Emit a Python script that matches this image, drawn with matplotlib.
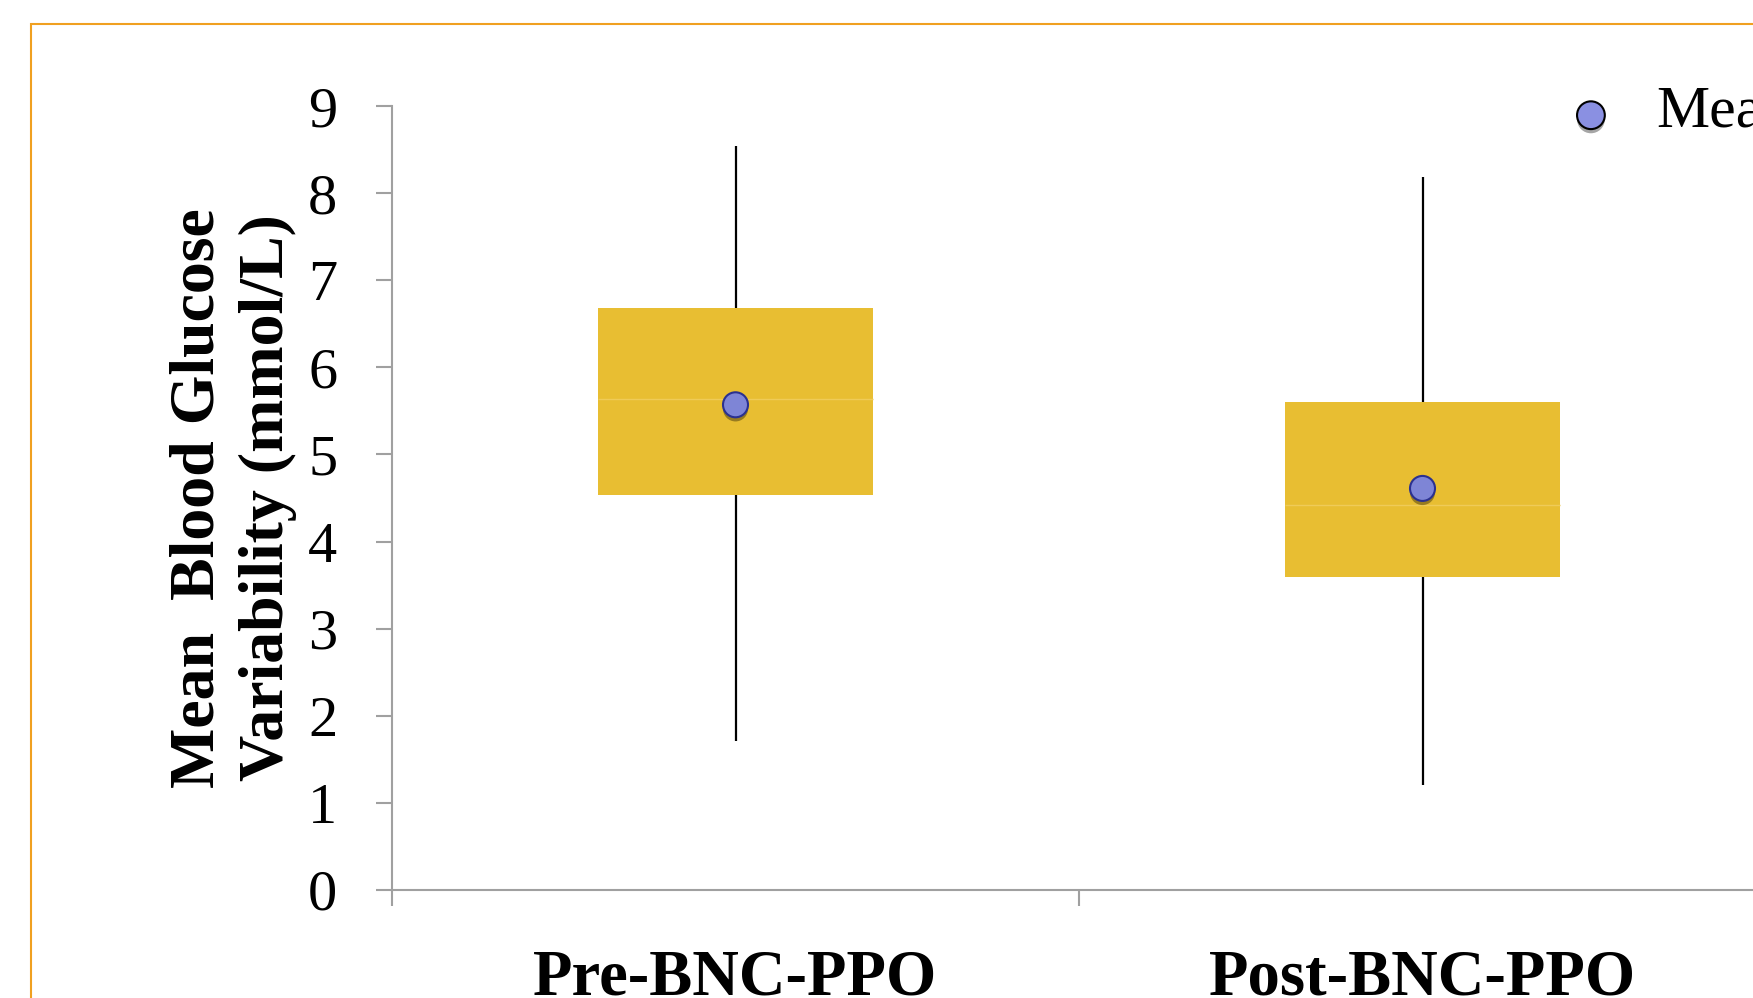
import matplotlib
matplotlib.use("Agg")
import matplotlib.pyplot as plt
import matplotlib.patheffects as pe
from matplotlib.patches import Rectangle
from matplotlib.lines import Line2D

# data (mmol/L)
groups = ["Pre-BNC-PPO", "Post-BNC-PPO"]
whisker_low = [1.71, 1.21]
q1 = [4.53, 3.59]
median = [5.64, 4.42]
q3 = [6.68, 5.60]
whisker_high = [8.54, 8.18]
means = [5.57, 4.61]
yticks = [0, 1, 2, 3, 4, 5, 6, 7, 8, 9]

plt.rcParams['font.family'] = ['Liberation Serif', 'DejaVu Serif']

fig = plt.figure(figsize=(17.53, 9.98), dpi=100)
ax = fig.add_axes([392/1753, 108/998, 1374/1753, 784/998])

x = list(range(len(groups)))

# whiskers
ax.vlines(x, whisker_low, q1, color="black", lw=1.6, zorder=2)
ax.vlines(x, q3, whisker_high, color="black", lw=1.6, zorder=2)

# boxes
heights = [b - a for a, b in zip(q1, q3)]
ax.bar(x, heights, bottom=q1, width=0.4, color="#E8BE32", zorder=3)
ax.hlines(median, [i - 0.2 for i in x], [i + 0.2 for i in x], color="#EFCB58", lw=1, zorder=4)

# means
shadow = [pe.SimplePatchShadow(offset=(0, -3), shadow_rgbFace="black", alpha=0.35), pe.Normal()]
ax.plot(x, means, linestyle="none", marker="o", markersize=18, markerfacecolor="#7E85D6",
        markeredgecolor="#2B3190", markeredgewidth=1.5, zorder=5, path_effects=shadow)

ax.set_xlim(-0.5, 1.5)
ax.set_ylim(0, 9)
ax.set_yticks(yticks)
ax.set_yticklabels([str(t) for t in yticks])
ax.set_xticks(x)
ax.set_xticklabels(groups, fontsize=46.5, fontweight="bold")
ax.set_xticks([-0.5, 0.5, 1.5], minor=True)
ax.tick_params(axis="x", which="major", length=0, pad=42)
ax.tick_params(axis="x", which="minor", length=11.5, width=1.5, color="#A0A0A0")
ax.tick_params(axis="y", length=11.5, width=1.5, color="#A0A0A0", labelsize=42, pad=28)

for s in ["top", "right"]:
    ax.spines[s].set_visible(False)
for s in ["left", "bottom"]:
    ax.spines[s].set_color("#A0A0A0")
    ax.spines[s].set_linewidth(1.5)

ax.set_ylabel("Mean  Blood Glucose\nVariability (mmol/L)", fontsize=46, fontweight="bold",
              linespacing=1.26)
ax.yaxis.set_label_coords(-0.069, 0.5)

# legend (marker sits a bit below the text line, as in the original)
drop = 7
handle = Line2D([], [], linestyle="none", marker="o", markersize=20, markerfacecolor="#8A90E2",
                markeredgecolor="black", markeredgewidth=1.5,
                path_effects=[pe.SimplePatchShadow(offset=(0, -3 - drop), shadow_rgbFace="black", alpha=0.35),
                              pe.Stroke(offset=(0, -drop))])
fig.legend([handle], ["Mean"], loc="center left", bbox_to_anchor=(1576/1753, 1 - 112/998),
           frameon=False, fontsize=43, handlelength=0.5, handletextpad=0.85,
           borderpad=0, borderaxespad=0)

# orange frame
fig.patches.append(Rectangle((31/1753, -0.1), 1.2, 1 - 24/998 + 0.1, transform=fig.transFigure,
                             fill=False, edgecolor="#F0A020", lw=1.5, clip_on=False))

fig.savefig("out.png", dpi=100)
